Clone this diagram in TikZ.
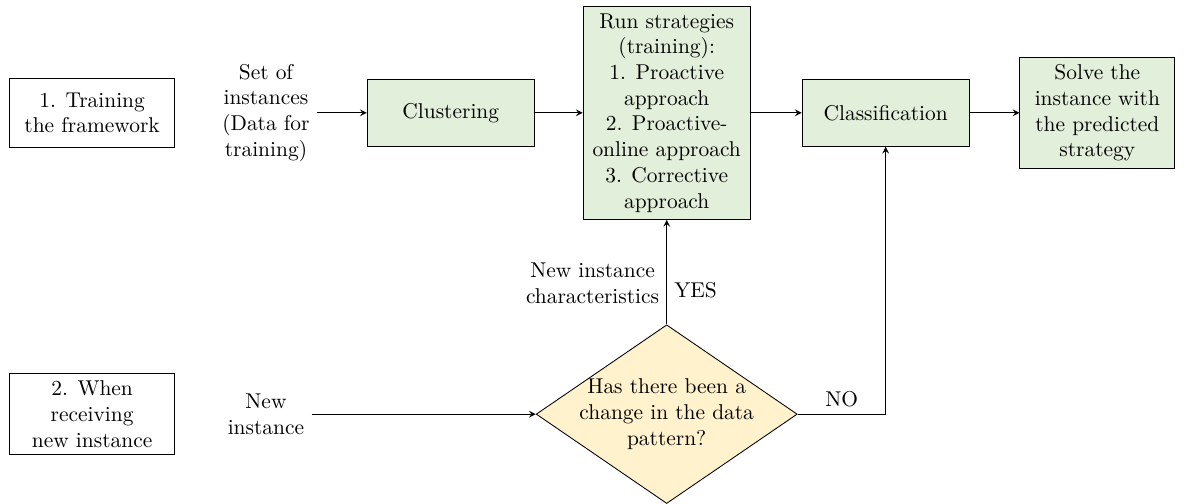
\documentclass[tikz,border=0pt]{standalone}
\usetikzlibrary{shapes.geometric}
\definecolor{boxgreen}{RGB}{226,239,218}
\definecolor{boxyellow}{RGB}{255,242,204}
\tikzset{
	stagebox/.style={draw,minimum width=2.7cm,minimum height=1.13cm,align=center},
	procbox/.style={draw,fill=boxgreen,minimum width=2.74cm,minimum height=1.1cm,align=center},
	decisionbox/.style={draw,fill=boxyellow,diamond,inner sep=0pt,minimum width=4.28cm,minimum height=2.93cm},
	flowtext/.style={align=center}
}
\begin{document}
\begin{tikzpicture}[>=stealth,x=1cm,y=1cm]
	\def\rowA{6.41} % upper row
	\def\rowB{1.47} % lower row
	\useasboundingbox (0,0) rectangle (19.46,8.26);
	% upper row: training
	\node[stagebox] (train) at (1.51,\rowA) {1. Training\\the framework};
	\node[flowtext] (set) at (4.36,\rowA) {Set of\\instances\\(Data for\\training)};
	\node[procbox] (clust) at (7.39,\rowA) {Clustering};
	\node[procbox] (run) at (10.93,\rowA) {Run strategies\\(training):\\1. Proactive\\approach\\2. Proactive-\\online approach\\3. Corrective\\approach};
	\node[procbox] (class) at (14.52,\rowA) {Classification};
	\node[procbox,minimum width=2.54cm] (solve) at (17.99,\rowA) {Solve the\\instance with\\the predicted\\strategy};
	% lower row: new instance
	\node[stagebox,minimum height=1.31cm] (recv) at (1.51,\rowB) {2. When\\receiving\\new instance};
	\node[flowtext] (newinst) at (4.36,\rowB) {New\\instance};
	\node[decisionbox] (chg) at (10.93,\rowB) {};
	\node[flowtext] (chgtext) at (chg.center) {Has there been a\\change in the data\\pattern?};
	% connectors
	\draw[->] (set) -- (clust);
	\draw[->] (clust) -- (run);
	\draw[->] (run) -- (class);
	\draw[->] (class) -- (solve);
	\draw[->] (newinst) -- (chg);
	\draw[->] (chg.north) -- node[pos=0.39,left,flowtext]{New instance\\characteristics} node[pos=0.33,right]{YES} (run.south);
	\draw[->] (chg.east) -| node[pos=0.25,above]{NO} (class.south);
\end{tikzpicture}
\end{document}
